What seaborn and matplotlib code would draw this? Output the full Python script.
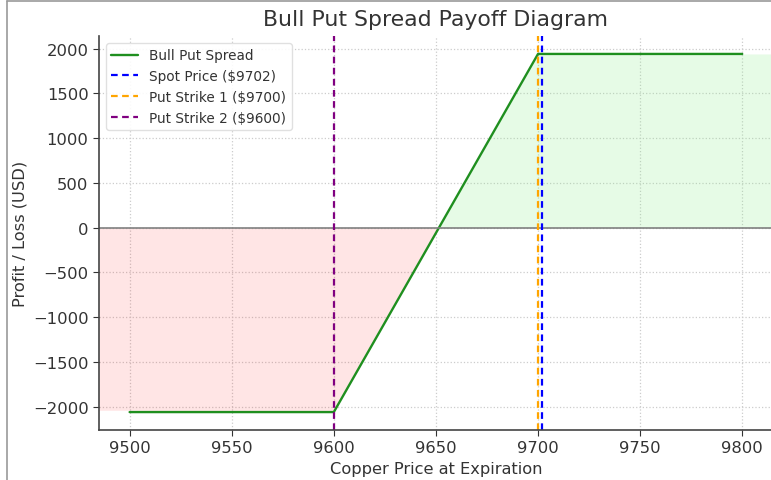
# Bull put spread payoff diagram (copper)
import numpy as np
import pandas as pd
import seaborn as sns
import matplotlib.pyplot as plt
from matplotlib.lines import Line2D

# %%
# payoff values
price = [9500, 9600, 9700, 9800]
payoff = [-2060, -2060, 1940, 1940]
spot = 9702
strike1 = 9700
strike2 = 9600
breakeven = 9651.5

# shaded regions (loss / profit)
loss_x = [9485, 9500, 9600, breakeven]
loss_y = [-2040, -2040, -2060, 0]
profit_x = [breakeven, 9700, 9800, 9815]
profit_y = [0, 1940, 1940, 1940]

df = pd.DataFrame({'price': price, 'payoff': payoff})

# %%
sns.set_style('ticks')
plt.rcParams['font.family'] = ['DejaVu Sans']
text_col = '#333333'

fig = plt.figure(figsize=(7.71, 4.81), dpi=100)
ax = fig.add_axes([0.1284, 0.104, 0.874, 0.819])

ax.fill_between(loss_x, loss_y, 0, color='red', alpha=0.1, linewidth=0)
ax.fill_between(profit_x, profit_y, 0, color='lightgreen', alpha=0.22, linewidth=0)

sns.lineplot(data=df, x='price', y='payoff', ax=ax, color='#1f8f1f',
             linewidth=1.7, label='Bull Put Spread')
ax.axhline(0, color='grey', linewidth=1.2)
ax.axvline(spot, color='blue', linestyle=(0, (3, 2)), linewidth=1.6,
           label=f'Spot Price (${spot})')
ax.axvline(strike1, color='orange', linestyle=(0, (3, 2)), linewidth=1.6,
           label=f'Put Strike 1 (${strike1})')
ax.axvline(strike2, color='purple', linestyle=(0, (3, 2)), linewidth=1.6,
           label=f'Put Strike 2 (${strike2})')

ax.set_xlim(9485, 9815)
ax.set_ylim(-2260, 2140)
ax.set_xticks([9500, 9550, 9600, 9650, 9700, 9750, 9800])
ax.set_yticks([-2000, -1500, -1000, -500, 0, 500, 1000, 1500, 2000])
ax.grid(True, linestyle=':', color='#cccccc', linewidth=0.9)
ax.set_axisbelow(True)

ax.set_title('Bull Put Spread Payoff Diagram', fontsize=15.8, color=text_col, pad=8)
ax.set_xlabel('Copper Price at Expiration', fontsize=11.7, color=text_col)
ax.set_ylabel('Profit / Loss (USD)', fontsize=11.7, color=text_col)
ax.tick_params(labelsize=11.8, colors=text_col, length=4)
for s in ['left', 'bottom']:
    ax.spines[s].set_color('#444444')
    ax.spines[s].set_linewidth(1.2)
ax.spines['top'].set_visible(False)
ax.spines['right'].set_visible(False)

ax.legend(loc='upper left', fontsize=9.8, frameon=True, framealpha=0.9,
          edgecolor='#dddddd', labelcolor=text_col)

# screenshot frame on left and top
fig.add_artist(Line2D([0.009, 0.009], [0, 0.995], color='#999999', linewidth=1.2))
fig.add_artist(Line2D([0.009, 1.0], [0.995, 0.995], color='#999999', linewidth=1.2))

fig.savefig('out.png', dpi=100)
